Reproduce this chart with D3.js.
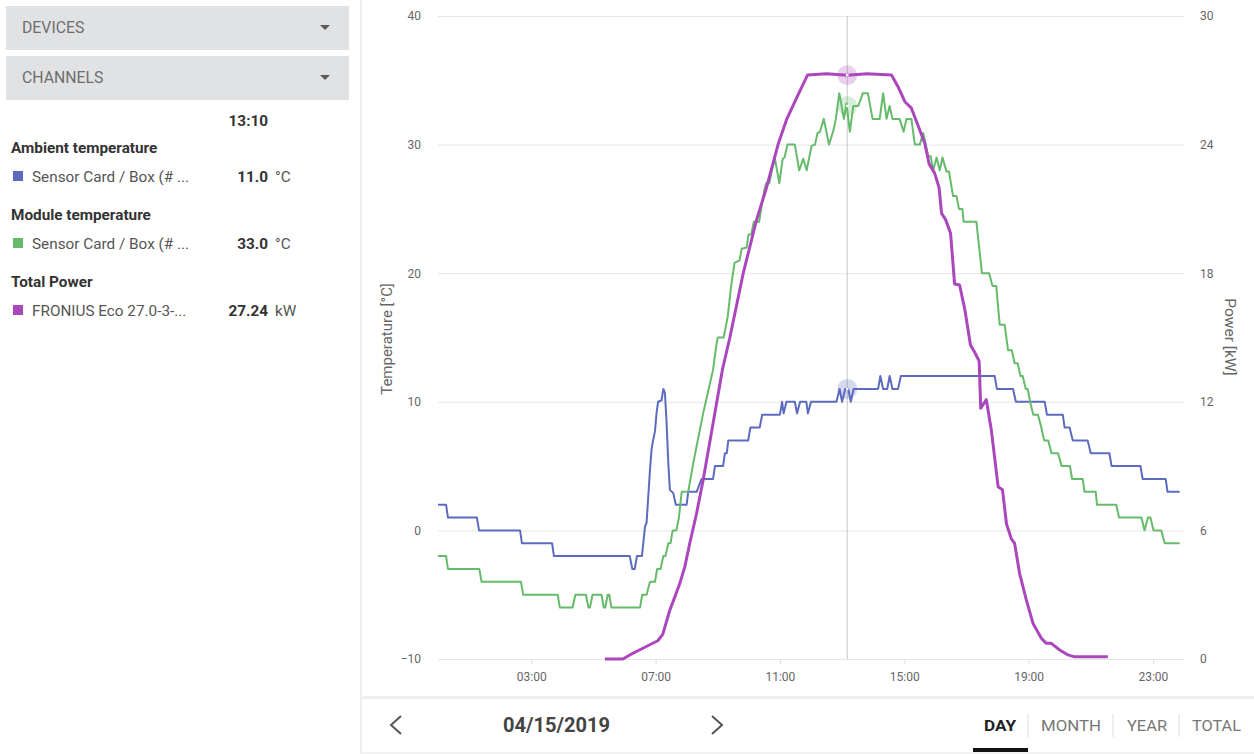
<!DOCTYPE html>
<html>
<head>
<meta charset="utf-8">
<script src="https://cdn.jsdelivr.net/npm/d3@7"></script>
<style>
  html, body { margin: 0; padding: 0; background: #fff; }
  svg { display: block; font-family: Roboto, "Noto Sans", sans-serif; }
</style>
</head>
<body>
<svg id="chart" width="1254" height="754"></svg>
<script>
// ---- data (hour of day, value) ----
const ambientTemp = [
  [0,2],[0.26,2],[0.32,1],[1.25,1],[1.32,0],[2.64,0],[2.70,-1],[3.67,-1],[3.73,-2],
  [6.17,-2],[6.25,-3],[6.33,-3],[6.40,-2],[6.56,-2],[6.66,0.3],[6.71,0.6],[6.82,4.7],
  [6.87,6.3],[6.92,7.0],[6.98,7.7],[7.03,9.1],[7.08,10],[7.19,10.1],[7.25,11],[7.30,10.7],
  [7.35,8.6],[7.41,5.2],[7.46,3.15],[7.57,2.9],[7.65,2],[8.0,2],[8.05,3],[8.32,3],
  [8.48,4],[8.85,4],[8.91,5],[9.17,5],[9.23,6],[9.29,6],[9.34,7],[9.98,7],[10.05,8],
  [10.35,8],[10.43,9],[11.0,9],[11.07,10],[11.12,9.1],[11.21,10],[11.48,10],[11.55,9.1],
  [11.65,10],[11.85,10],[11.90,9.1],[12.0,10],[12.82,10],[12.92,11],[13.0,10],[13.1,11],
  [13.2,11],[13.28,10],[13.37,11],[14.16,11],[14.23,12],[14.32,11],[14.45,11],[14.53,12],
  [14.62,11],[14.80,11],[14.89,12],[17.91,12],[17.98,11],[18.5,11],[18.59,10],[19.52,10],
  [19.59,9],[20.1,9],[20.16,8],[20.32,8],[20.42,7],[20.9,7],[21.0,6],[21.6,6],[21.67,5],
  [22.6,5],[22.67,4],[23.41,4],[23.47,3],[23.86,3]
];
const moduleTemp = [
  [0,-2],[0.26,-2],[0.32,-3],[1.33,-3],[1.40,-4],[2.67,-4],[2.74,-5],[3.85,-5],[3.92,-6],
  [4.33,-6],[4.42,-5],[4.76,-5],[4.84,-6],[4.89,-6],[4.97,-5],[5.26,-5],[5.33,-6],[5.38,-6],
  [5.46,-5],[5.51,-5],[5.58,-6],[6.50,-6],[6.57,-5],[6.71,-5],[6.82,-4],[6.98,-4],[7.05,-3],
  [7.16,-3],[7.25,-2],[7.32,-2],[7.41,-1],[7.48,-1],[7.55,0],[7.67,0],[7.75,1],[7.84,3],
  [8.05,3],[8.21,5.2],[8.53,9.1],[8.85,12.5],[8.96,14.5],[9.0,15],[9.19,15],[9.32,16.6],
  [9.43,19.0],[9.54,20.8],[9.70,21],[9.77,21.9],[9.93,22],[9.99,23],[10.08,23],[10.16,24],
  [10.33,24],[10.41,25.2],[10.50,26.5],[10.56,27],[10.66,27],[10.74,28],[10.84,28.9],
  [10.98,27],[11.09,28.9],[11.15,29],[11.24,30],[11.48,30],[11.62,28],[11.75,28.9],
  [11.86,28],[12.02,29.9],[12.13,30],[12.21,30.9],[12.29,31],[12.41,32],[12.58,30],
  [12.72,31.1],[12.80,32],[12.91,34],[13.06,32],[13.14,33.2],[13.25,31],[13.36,33],
  [13.52,33],[13.67,34],[13.83,34],[13.98,32],[14.21,32],[14.32,34],[14.43,32],[14.53,33],
  [14.62,32],[14.85,32],[14.98,31],[15.07,32],[15.23,32],[15.34,30],[15.50,30],[15.61,30.9],
  [15.77,29.1],[15.85,29.1],[15.93,28],[16.04,29],[16.14,28],[16.23,29],[16.36,27.9],
  [16.44,27.9],[16.57,26],[16.68,26],[16.76,25],[16.87,25],[16.91,24],[17.32,24],[17.42,21.8],
  [17.5,20],[17.73,20],[17.84,19],[17.96,19],[18.07,16],[18.23,16],[18.34,14],[18.46,14],
  [18.55,13],[18.65,13],[18.74,12],[18.81,12],[18.91,11],[18.97,11],[19.05,10],[19.15,9],
  [19.3,9],[19.41,8],[19.5,7],[19.63,7],[19.74,6],[19.95,6],[20.06,5],[20.33,5],[20.4,4],
  [20.74,4],[20.8,3],[21.16,3],[21.2,2],[21.82,2],[21.91,1],[22.63,1],[22.73,0],[22.84,1],
  [22.92,1],[23.02,0],[23.27,0],[23.38,-1],[23.86,-1]
];
const totalPower = [
  [5.37,0],[5.95,0],[6.17,0.19],[6.59,0.5],[7.07,0.85],[7.23,1.15],[7.46,2.29],[7.62,2.9],
  [7.78,3.53],[7.94,4.3],[8.10,5.4],[8.32,6.8],[8.53,8.35],[8.85,11.0],[9.15,13.5],
  [9.39,15.0],[9.82,18.0],[10.25,20.5],[10.57,22.0],[10.94,24.0],[11.21,25.15],[11.53,26.16],
  [11.89,27.25],[12.5,27.3],[13.17,27.24],[13.8,27.3],[14.59,27.25],[14.80,26.7],[15.02,26.0],
  [15.23,25.7],[15.44,24.9],[15.66,24.06],[15.80,23.1],[15.98,22.66],[16.12,22.0],
  [16.2,20.8],[16.33,20.5],[16.49,19.86],[16.62,17.5],[16.78,17.45],[16.95,16.3],
  [17.13,14.65],[17.27,14.3],[17.41,13.9],[17.46,11.7],[17.64,12.1],[17.80,10.7],
  [18.02,8.04],[18.16,7.9],[18.29,6.3],[18.45,5.59],[18.55,5.4],[18.71,4.0],[18.93,2.75],
  [19.14,1.67],[19.41,0.97],[19.57,0.73],[19.73,0.73],[20.0,0.42],[20.27,0.19],[20.48,0.1],
  [21.55,0.1]
];
const hourTicks = [3, 7, 11, 15, 19, 23];
const hourTickLabels = ["03:00", "07:00", "11:00", "15:00", "19:00", "23:00"];
const tempTicks = [-10, 0, 10, 20, 30, 40];
const powerTicks = [0, 6, 12, 18, 24, 30];
const cursorHour = 13 + 10 / 60;
const cursorLabel = "13:10";
const cursorValues = [11.0, 33.0, 27.24];
const legendGroups = ["Ambient temperature", "Module temperature", "Total Power"];
const legendNames = ["Sensor Card / Box (# ...", "Sensor Card / Box (# ...", "FRONIUS Eco 27.0-3-..."];
const legendValues = ["11.0", "33.0", "27.24"];
const legendUnits = ["°C", "°C", "kW"];
const seriesColors = ["#5c6bc0", "#66bb6a", "#ab47bc"];
const periodTabs = ["DAY", "MONTH", "YEAR", "TOTAL"];
const dateLabel = "04/15/2019";

// ---- drawing ----
const svg = d3.select("#chart");
const plot = { left: 438, right: 1184, top: 16, bottom: 659 };

const x = d3.scaleLinear().domain([0, 24]).range([plot.left, plot.right]);
const yT = d3.scaleLinear().domain([-10, 40]).range([plot.bottom, plot.top]);
const yP = d3.scaleLinear().domain([0, 30]).range([plot.bottom, plot.top]);

// panel separators
svg.append("rect").attr("x", 360).attr("y", 0).attr("width", 2).attr("height", 754).attr("fill", "#eeeeee");
svg.append("rect").attr("x", 362).attr("y", 696).attr("width", 892).attr("height", 3).attr("fill", "#eeeeee");
svg.append("rect").attr("x", 362).attr("y", 752).attr("width", 892).attr("height", 2).attr("fill", "#f2f2f2");

// left axis with gridlines
const gLeft = svg.append("g").attr("transform", `translate(${plot.left},0)`)
  .call(d3.axisLeft(yT).tickValues(tempTicks).tickSizeInner(-(plot.right - plot.left)).tickSizeOuter(0).tickPadding(17));
gLeft.select(".domain").remove();
gLeft.selectAll("line").attr("stroke", "#e6e6e6");
gLeft.selectAll("text").attr("fill", "#666").style("font-size", "12px").style("font-family", "Roboto");

// right axis
const gRight = svg.append("g").attr("transform", `translate(${plot.right},0)`)
  .call(d3.axisRight(yP).tickValues(powerTicks).tickSize(0).tickPadding(16));
gRight.select(".domain").remove();
gRight.selectAll("text").attr("fill", "#666").style("font-size", "12px").style("font-family", "Roboto");

// bottom axis
const gBottom = svg.append("g").attr("transform", `translate(0,${plot.bottom})`)
  .call(d3.axisBottom(x).tickValues(hourTicks).tickFormat((d, i) => hourTickLabels[i]).tickSize(5).tickPadding(8));
gBottom.select(".domain").remove();
gBottom.selectAll("line").attr("stroke", "#dddddd");
gBottom.selectAll("text").attr("fill", "#666").style("font-size", "12px").style("font-family", "Roboto");

// axis titles
svg.append("text").attr("transform", `translate(392,339) rotate(-90)`).attr("text-anchor", "middle")
  .attr("fill", "#666").style("font-size", "15px").text("Temperature [°C]");
svg.append("text").attr("transform", `translate(1225,337) rotate(90)`).attr("text-anchor", "middle")
  .attr("fill", "#666").style("font-size", "15.5px").text("Power [kW]");

// crosshair
svg.append("line").attr("x1", x(cursorHour)).attr("x2", x(cursorHour))
  .attr("y1", plot.top).attr("y2", plot.bottom).attr("stroke", "#c8c8c8").attr("stroke-width", 1);

// lines
const lineT = d3.line().x(d => x(d[0])).y(d => yT(d[1]));
const lineP = d3.line().x(d => x(d[0])).y(d => yP(d[1]));
svg.append("path").datum(ambientTemp).attr("d", lineT).attr("fill", "none")
  .attr("stroke", seriesColors[0]).attr("stroke-width", 2).attr("stroke-linejoin", "round");
svg.append("path").datum(moduleTemp).attr("d", lineT).attr("fill", "none")
  .attr("stroke", seriesColors[1]).attr("stroke-width", 2).attr("stroke-linejoin", "round");
svg.append("path").datum(totalPower).attr("d", lineP).attr("fill", "none")
  .attr("stroke", seriesColors[2]).attr("stroke-width", 3).attr("stroke-linejoin", "round");

// cursor markers
const markerY = [yT(cursorValues[0]), yT(cursorValues[1]), yP(cursorValues[2])];
markerY.forEach((my, i) => {
  svg.append("circle").attr("cx", x(cursorHour)).attr("cy", my).attr("r", 10)
    .attr("fill", seriesColors[i]).attr("fill-opacity", 0.25);
  svg.append("circle").attr("cx", x(cursorHour)).attr("cy", my).attr("r", 1.3).attr("fill", "#fff");
});

// left panel dropdowns
["DEVICES", "CHANNELS"].forEach((label, i) => {
  const y0 = 6 + i * 50;
  svg.append("rect").attr("x", 6).attr("y", y0).attr("width", 343).attr("height", 44).attr("fill", "#e1e2e4");
  svg.append("text").attr("x", 22).attr("y", y0 + 27).attr("fill", "#6e6e6e").style("font-size", "15.8px").text(label);
  svg.append("path").attr("d", `M320,${y0 + 19} L330,${y0 + 19} L325,${y0 + 24} Z`).attr("fill", "#5a5a5a");
});

// legend block
const fs = "15.3px";
svg.append("text").attr("x", 268).attr("y", 126).attr("text-anchor", "end").attr("fill", "#333")
  .style("font-size", fs).style("font-weight", "bold").text(cursorLabel);
legendGroups.forEach((g, i) => {
  const yb = 153 + i * 67;
  svg.append("text").attr("x", 11).attr("y", yb).attr("fill", "#333")
    .style("font-size", fs).style("font-weight", "bold").text(g);
  svg.append("rect").attr("x", 13).attr("y", yb + 18).attr("width", 10).attr("height", 10).attr("fill", seriesColors[i]);
  svg.append("text").attr("x", 32).attr("y", yb + 29).attr("fill", "#555").style("font-size", fs).text(legendNames[i]);
  svg.append("text").attr("x", 268).attr("y", yb + 29).attr("text-anchor", "end").attr("fill", "#333")
    .style("font-size", fs).style("font-weight", "bold").text(legendValues[i]);
  svg.append("text").attr("x", 275).attr("y", yb + 29).attr("fill", "#555").style("font-size", fs).text(legendUnits[i]);
});

// bottom navigation
svg.append("path").attr("d", "M401,716 L391,725 L401,734").attr("fill", "none").attr("stroke", "#555").attr("stroke-width", 2);
svg.append("path").attr("d", "M712,716 L722,725 L712,734").attr("fill", "none").attr("stroke", "#555").attr("stroke-width", 2);
svg.append("text").attr("x", 503).attr("y", 732).attr("fill", "#444").style("font-size", "20px").style("font-weight", "bold")
  .attr("textLength", 107).attr("lengthAdjust", "spacingAndGlyphs").text(dateLabel);

const tabX = [984, 1041, 1127, 1192];
const tabW = [32, 60, 40, 49];
periodTabs.forEach((t, i) => {
  svg.append("text").attr("x", tabX[i]).attr("y", 731).attr("fill", i === 0 ? "#222" : "#777")
    .style("font-size", "15px").style("font-weight", i === 0 ? "bold" : "normal")
    .attr("textLength", tabW[i]).attr("lengthAdjust", "spacingAndGlyphs").text(t);
});
[1028, 1113, 1179].forEach(sx => {
  svg.append("line").attr("x1", sx).attr("x2", sx).attr("y1", 714).attr("y2", 737).attr("stroke", "#ddd");
});
svg.append("rect").attr("x", 973).attr("y", 748).attr("width", 55).attr("height", 4).attr("fill", "#111");
</script>
</body>
</html>
